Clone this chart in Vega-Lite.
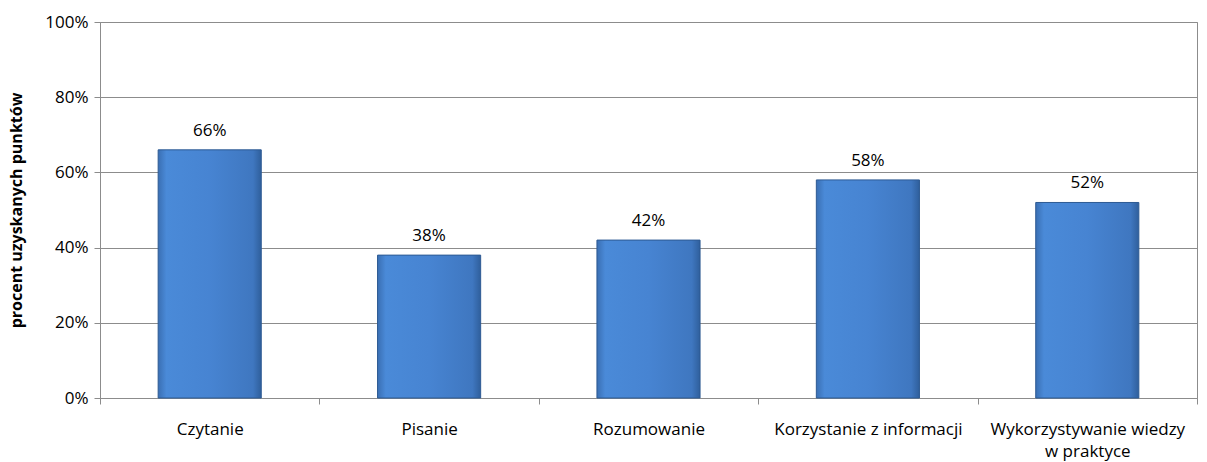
{
  "$schema": "https://vega.github.io/schema/vega-lite/v6.json",
  "width": 1097,
  "height": 376,
  "autosize": "none",
  "padding": {"left": 100, "top": 22, "right": 10, "bottom": 64},
  "background": "white",
  "config": {
    "font": "Open Sans",
    "view": {"stroke": "#8c8c8c", "strokeWidth": 1},
    "axis": {"labelFont": "Open Sans", "titleFont": "Open Sans"}
  },
  "data": {
    "values": [
      {"kategoria": "Czytanie", "wartosc": 0.66},
      {"kategoria": "Pisanie", "wartosc": 0.38},
      {"kategoria": "Rozumowanie", "wartosc": 0.42},
      {"kategoria": "Korzystanie z informacji", "wartosc": 0.58},
      {"kategoria": "Wykorzystywanie wiedzy w praktyce", "wartosc": 0.52}
    ]
  },
  "encoding": {
    "x": {
      "field": "kategoria",
      "type": "nominal",
      "sort": null,
      "scale": {"paddingInner": 0, "paddingOuter": 0},
      "axis": {
        "title": null,
        "labelAngle": 0,
        "labelFontSize": 17,
        "labelColor": "#000000",
        "labelPadding": 17,
        "labelLimit": 0,
        "labelOverlap": false,
        "tickBand": "extent",
        "tickColor": "#8c8c8c",
        "tickSize": 6,
        "domainColor": "#8c8c8c",
        "labelExpr": "datum.label == 'Wykorzystywanie wiedzy w praktyce' ? ['Wykorzystywanie wiedzy', 'w praktyce'] : datum.label",
        "labelLineHeight": 22
      }
    },
    "y": {
      "field": "wartosc",
      "type": "quantitative",
      "scale": {"domain": [0, 1]},
      "axis": {
        "title": "procent uzyskanych punktów",
        "titleFontSize": 16,
        "titleFontWeight": "bold",
        "titleColor": "#000000",
        "titlePadding": 20,
        "format": ".0%",
        "values": [0, 0.2, 0.4, 0.6, 0.8, 1],
        "labelFontSize": 17,
        "labelColor": "#000000",
        "labelPadding": 6,
        "tickColor": "#8c8c8c",
        "tickSize": 6,
        "domainColor": "#8c8c8c",
        "gridColor": "#8c8c8c",
        "gridWidth": 1.2
      }
    }
  },
  "layer": [
    {
      "mark": {
        "type": "bar",
        "width": {"band": 0.47},
        "stroke": "#2d5a93",
        "strokeWidth": 1,
        "fill": {
          "x1": 0, "y1": 0, "x2": 1, "y2": 0,
          "gradient": "linear",
          "stops": [
            {"offset": 0, "color": "#3a6fb3"},
            {"offset": 0.08, "color": "#4a8ad8"},
            {"offset": 0.5, "color": "#4784d2"},
            {"offset": 0.92, "color": "#3f77c0"},
            {"offset": 1, "color": "#2f5f9c"}
          ]
        }
      }
    },
    {
      "mark": {"type": "text", "baseline": "bottom", "dy": -10, "fontSize": 17, "color": "#000000", "font": "Open Sans"},
      "encoding": {
        "text": {"field": "wartosc", "type": "quantitative", "format": ".0%"}
      }
    }
  ]
}
